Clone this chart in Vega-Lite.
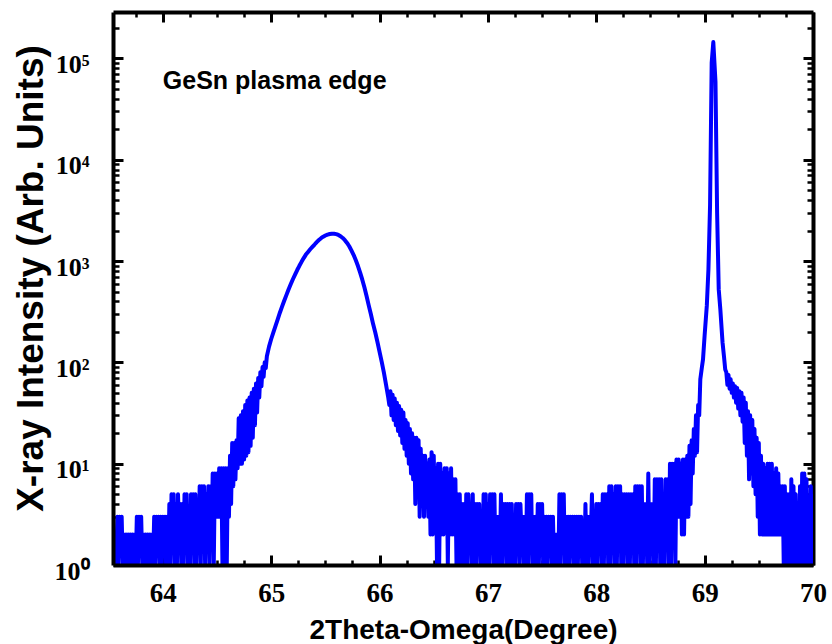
{
"$schema": "https://vega.github.io/schema/vega-lite/v6.json",
"width": 700, "height": 553,
"autosize": {"type": "none"},
"padding": {"left": 113, "top": 12, "right": 19, "bottom": 79},
"background": "white",
"config": {"view": {"stroke": null}},
"data": {"values": [
{"t":63.54,"c":2},{"t":63.55,"c":1},{"t":63.56,"c":2},{"t":63.57,"c":1},{"t":63.58,"c":3},{"t":63.59,"c":1},{"t":63.60,"c":3},{"t":63.61,"c":2},{"t":63.62,"c":3},{"t":63.63,"c":1},
{"t":63.64,"c":2},{"t":63.65,"c":1},{"t":63.66,"c":2},{"t":63.67,"c":1},{"t":63.68,"c":2},{"t":63.69,"c":1},{"t":63.70,"c":2},{"t":63.71,"c":1},{"t":63.72,"c":2},{"t":63.73,"c":1},
{"t":63.74,"c":2},{"t":63.75,"c":1},{"t":63.76,"c":3},{"t":63.77,"c":1},{"t":63.78,"c":3},{"t":63.79,"c":2},{"t":63.80,"c":3},{"t":63.81,"c":1},{"t":63.82,"c":2},{"t":63.83,"c":1},
{"t":63.84,"c":2},{"t":63.85,"c":1},{"t":63.86,"c":2},{"t":63.87,"c":1},{"t":63.88,"c":2},{"t":63.89,"c":1},{"t":63.90,"c":2},{"t":63.91,"c":1},{"t":63.92,"c":3},{"t":63.93,"c":1},
{"t":63.94,"c":3},{"t":63.95,"c":2},{"t":63.96,"c":3},{"t":63.97,"c":1},{"t":63.98,"c":3},{"t":63.99,"c":1},{"t":64.00,"c":3},{"t":64.01,"c":2},{"t":64.02,"c":3},{"t":64.03,"c":1},
{"t":64.04,"c":3},{"t":64.05,"c":1},{"t":64.06,"c":4},{"t":64.07,"c":1},{"t":64.08,"c":5},{"t":64.09,"c":2},{"t":64.10,"c":5},{"t":64.11,"c":1},{"t":64.12,"c":4},{"t":64.13,"c":1},
{"t":64.14,"c":5},{"t":64.15,"c":2},{"t":64.16,"c":4},{"t":64.17,"c":1},{"t":64.18,"c":4},{"t":64.19,"c":1},{"t":64.20,"c":5},{"t":64.21,"c":2},{"t":64.22,"c":5},{"t":64.23,"c":1},
{"t":64.24,"c":3},{"t":64.25,"c":1},{"t":64.26,"c":5},{"t":64.27,"c":2},{"t":64.28,"c":5},{"t":64.29,"c":1},{"t":64.30,"c":5},{"t":64.31,"c":1},{"t":64.32,"c":4},{"t":64.33,"c":2},
{"t":64.34,"c":6},{"t":64.35,"c":1},{"t":64.36,"c":6},{"t":64.37,"c":2},{"t":64.38,"c":6},{"t":64.39,"c":1},{"t":64.40,"c":5},{"t":64.41,"c":2},{"t":64.42,"c":6},{"t":64.43,"c":1},
{"t":64.44,"c":6},{"t":64.45,"c":2},{"t":64.46,"c":8},{"t":64.47,"c":1},{"t":64.48,"c":8},{"t":64.49,"c":3},{"t":64.50,"c":8},{"t":64.51,"c":3},{"t":64.52,"c":9},{"t":64.53,"c":3},
{"t":64.54,"c":9},{"t":64.55,"c":1},{"t":64.56,"c":9},{"t":64.57,"c":1},{"t":64.58,"c":9},{"t":64.59,"c":1},{"t":64.60,"c":9},{"t":64.61,"c":3},{"t":64.62,"c":12},{"t":64.63,"c":4},
{"t":64.64,"c":16},{"t":64.65,"c":6},{"t":64.66,"c":16},{"t":64.67,"c":7},{"t":64.68,"c":17},{"t":64.69,"c":9},{"t":64.70,"c":28},{"t":64.71,"c":10},{"t":64.72,"c":30},{"t":64.73,"c":10},
{"t":64.74,"c":33},{"t":64.75,"c":11},{"t":64.76,"c":38},{"t":64.77,"c":12},{"t":64.78,"c":42},{"t":64.79,"c":13},{"t":64.80,"c":45},{"t":64.81,"c":15},{"t":64.82,"c":50},{"t":64.83,"c":18},
{"t":64.84,"c":55},{"t":64.85,"c":24},{"t":64.86,"c":62},{"t":64.87,"c":32},{"t":64.88,"c":70},{"t":64.89,"c":45},{"t":64.90,"c":80},{"t":64.91,"c":58},{"t":64.92,"c":90},{"t":64.93,"c":72},
{"t":64.94,"c":100},{"t":64.95,"c":88},{"t":64.96,"c":115},
{"t":64.98,"c":143},{"t":65.00,"c":170},{"t":65.02,"c":198},{"t":65.04,"c":229},{"t":65.06,"c":266},{"t":65.08,"c":309},{"t":65.10,"c":355},{"t":65.12,"c":405},{"t":65.14,"c":461},{"t":65.16,"c":524},
{"t":65.18,"c":589},{"t":65.20,"c":661},{"t":65.22,"c":734},{"t":65.24,"c":815},{"t":65.26,"c":897},{"t":65.28,"c":982},{"t":65.30,"c":1069},{"t":65.32,"c":1158},{"t":65.34,"c":1230},{"t":65.36,"c":1306},
{"t":65.38,"c":1380},{"t":65.40,"c":1455},{"t":65.42,"c":1538},{"t":65.44,"c":1613},{"t":65.46,"c":1679},{"t":65.48,"c":1738},{"t":65.50,"c":1786},{"t":65.52,"c":1824},{"t":65.54,"c":1849},{"t":65.56,"c":1862},
{"t":65.58,"c":1860},{"t":65.60,"c":1843},{"t":65.62,"c":1809},{"t":65.64,"c":1758},{"t":65.66,"c":1690},{"t":65.68,"c":1607},{"t":65.70,"c":1510},{"t":65.72,"c":1400},{"t":65.74,"c":1274},{"t":65.76,"c":1151},
{"t":65.78,"c":1023},{"t":65.80,"c":897},{"t":65.82,"c":774},{"t":65.84,"c":658},{"t":65.86,"c":550},{"t":65.88,"c":452},{"t":65.90,"c":365},{"t":65.92,"c":298},{"t":65.94,"c":240},{"t":65.96,"c":198},
{"t":65.98,"c":160},{"t":66.00,"c":127},{"t":66.02,"c":101},{"t":66.04,"c":79},{"t":66.06,"c":60},{"t":66.08,"c":45},
{"t":66.09,"c":38},{"t":66.10,"c":52},{"t":66.11,"c":30},{"t":66.12,"c":48},{"t":66.13,"c":27},{"t":66.14,"c":44},{"t":66.15,"c":24},{"t":66.16,"c":40},{"t":66.17,"c":21},{"t":66.18,"c":37},
{"t":66.19,"c":19},{"t":66.20,"c":34},{"t":66.21,"c":16},{"t":66.22,"c":32},{"t":66.23,"c":14},{"t":66.24,"c":27},{"t":66.25,"c":12},{"t":66.26,"c":25},{"t":66.27,"c":10},{"t":66.28,"c":22},
{"t":66.29,"c":8},{"t":66.30,"c":20},{"t":66.31,"c":7},{"t":66.32,"c":18},{"t":66.33,"c":4},{"t":66.34,"c":18},{"t":66.35,"c":5},{"t":66.36,"c":17},{"t":66.37,"c":3},{"t":66.38,"c":14},
{"t":66.39,"c":4},{"t":66.40,"c":12},{"t":66.41,"c":3},{"t":66.42,"c":12},{"t":66.43,"c":4},{"t":66.44,"c":10},{"t":66.45,"c":3},{"t":66.46,"c":11},{"t":66.47,"c":2},{"t":66.48,"c":13},
{"t":66.49,"c":2},{"t":66.50,"c":12},{"t":66.51,"c":3},{"t":66.52,"c":9},{"t":66.53,"c":1},{"t":66.54,"c":10},{"t":66.55,"c":1},{"t":66.56,"c":10},{"t":66.57,"c":2},{"t":66.58,"c":8},
{"t":66.59,"c":2},{"t":66.60,"c":9},{"t":66.61,"c":3},{"t":66.62,"c":9},{"t":66.63,"c":1},{"t":66.64,"c":8},{"t":66.65,"c":2},{"t":66.66,"c":9},{"t":66.67,"c":2},{"t":66.68,"c":7},
{"t":66.69,"c":2},{"t":66.70,"c":7},{"t":66.71,"c":1},{"t":66.72,"c":5},{"t":66.73,"c":1},{"t":66.74,"c":5},{"t":66.75,"c":1},{"t":66.76,"c":4},{"t":66.77,"c":1},
{"t":66.78,"c":4},{"t":66.79,"c":1},{"t":66.80,"c":5},{"t":66.81,"c":1},{"t":66.82,"c":5},{"t":66.83,"c":2},{"t":66.84,"c":4},{"t":66.85,"c":1},{"t":66.86,"c":5},{"t":66.87,"c":1},
{"t":66.88,"c":4},{"t":66.89,"c":1},{"t":66.90,"c":4},{"t":66.91,"c":2},{"t":66.92,"c":4},{"t":66.93,"c":1},{"t":66.94,"c":3},{"t":66.95,"c":1},{"t":66.96,"c":5},{"t":66.97,"c":1},
{"t":66.98,"c":5},{"t":66.99,"c":1},{"t":67.00,"c":4},{"t":67.01,"c":1},{"t":67.02,"c":5},{"t":67.03,"c":2},{"t":67.04,"c":5},{"t":67.05,"c":1},{"t":67.06,"c":5},{"t":67.07,"c":1},
{"t":67.08,"c":3},{"t":67.09,"c":1},{"t":67.10,"c":3},{"t":67.11,"c":1},{"t":67.12,"c":5},{"t":67.13,"c":1},{"t":67.14,"c":4},{"t":67.15,"c":2},{"t":67.16,"c":4},{"t":67.17,"c":1},
{"t":67.18,"c":4},{"t":67.19,"c":1},{"t":67.20,"c":4},{"t":67.21,"c":1},{"t":67.22,"c":4},{"t":67.23,"c":1},{"t":67.24,"c":3},{"t":67.25,"c":1},{"t":67.26,"c":4},{"t":67.27,"c":2},
{"t":67.28,"c":4},{"t":67.29,"c":1},{"t":67.30,"c":4},{"t":67.31,"c":2},{"t":67.32,"c":3},{"t":67.33,"c":1},{"t":67.34,"c":3},{"t":67.35,"c":1},{"t":67.36,"c":5},{"t":67.37,"c":1},
{"t":67.38,"c":5},{"t":67.39,"c":2},{"t":67.40,"c":5},{"t":67.41,"c":1},{"t":67.42,"c":3},{"t":67.43,"c":1},{"t":67.44,"c":3},{"t":67.45,"c":1},{"t":67.46,"c":4},{"t":67.47,"c":1},
{"t":67.48,"c":4},{"t":67.49,"c":2},{"t":67.50,"c":4},{"t":67.51,"c":1},{"t":67.52,"c":3},{"t":67.53,"c":1},{"t":67.54,"c":3},{"t":67.55,"c":1},{"t":67.56,"c":3},{"t":67.57,"c":2},
{"t":67.58,"c":3},{"t":67.59,"c":1},{"t":67.60,"c":3},{"t":67.61,"c":1},{"t":67.62,"c":2},{"t":67.63,"c":1},{"t":67.64,"c":2},{"t":67.65,"c":1},{"t":67.66,"c":5},{"t":67.67,"c":1},
{"t":67.68,"c":5},{"t":67.69,"c":2},{"t":67.70,"c":5},{"t":67.71,"c":1},{"t":67.72,"c":3},{"t":67.73,"c":1},{"t":67.74,"c":3},{"t":67.75,"c":1},{"t":67.76,"c":3},{"t":67.77,"c":2},
{"t":67.78,"c":3},{"t":67.79,"c":1},{"t":67.80,"c":3},{"t":67.81,"c":1},{"t":67.82,"c":3},{"t":67.83,"c":1},{"t":67.84,"c":3},{"t":67.85,"c":2},{"t":67.86,"c":3},{"t":67.87,"c":1},
{"t":67.88,"c":2},{"t":67.89,"c":1},{"t":67.90,"c":4},{"t":67.91,"c":1},{"t":67.92,"c":3},{"t":67.93,"c":1},{"t":67.94,"c":3},{"t":67.95,"c":2},{"t":67.96,"c":5},{"t":67.97,"c":1},
{"t":67.98,"c":3},{"t":67.99,"c":1},{"t":68.00,"c":4},{"t":68.01,"c":1},{"t":68.02,"c":4},{"t":68.03,"c":2},{"t":68.04,"c":4},{"t":68.05,"c":1},{"t":68.06,"c":5},{"t":68.07,"c":1},
{"t":68.08,"c":5},{"t":68.09,"c":2},{"t":68.10,"c":5},{"t":68.11,"c":1},{"t":68.12,"c":6},{"t":68.13,"c":1},{"t":68.14,"c":6},{"t":68.15,"c":2},{"t":68.16,"c":5},{"t":68.17,"c":1},
{"t":68.18,"c":6},{"t":68.19,"c":1},{"t":68.20,"c":6},{"t":68.21,"c":2},{"t":68.22,"c":6},{"t":68.23,"c":1},{"t":68.24,"c":5},{"t":68.25,"c":1},{"t":68.26,"c":5},{"t":68.27,"c":2},
{"t":68.28,"c":5},{"t":68.29,"c":1},{"t":68.30,"c":5},{"t":68.31,"c":1},{"t":68.32,"c":5},{"t":68.33,"c":2},{"t":68.34,"c":5},{"t":68.35,"c":1},{"t":68.36,"c":6},{"t":68.37,"c":1},
{"t":68.38,"c":6},{"t":68.39,"c":2},{"t":68.40,"c":6},{"t":68.41,"c":1},{"t":68.42,"c":6},{"t":68.43,"c":1},{"t":68.44,"c":4},{"t":68.45,"c":2},{"t":68.46,"c":4},{"t":68.47,"c":1},
{"t":68.48,"c":8},{"t":68.49,"c":1},{"t":68.50,"c":4},{"t":68.51,"c":2},{"t":68.52,"c":4},{"t":68.53,"c":1},{"t":68.54,"c":7},{"t":68.55,"c":1},{"t":68.56,"c":7},{"t":68.57,"c":2},
{"t":68.58,"c":7},{"t":68.59,"c":1},{"t":68.60,"c":7},{"t":68.61,"c":1},{"t":68.62,"c":4},{"t":68.63,"c":1},{"t":68.64,"c":7},{"t":68.65,"c":2},{"t":68.66,"c":7},{"t":68.67,"c":1},
{"t":68.68,"c":10},{"t":68.69,"c":1},{"t":68.70,"c":10},{"t":68.71,"c":2},{"t":68.72,"c":10},{"t":68.73,"c":1},{"t":68.74,"c":11},{"t":68.75,"c":3},{"t":68.76,"c":11},{"t":68.77,"c":3},
{"t":68.78,"c":10},{"t":68.79,"c":2},{"t":68.80,"c":11},{"t":68.81,"c":2},{"t":68.82,"c":11},{"t":68.83,"c":3},{"t":68.84,"c":12},{"t":68.85,"c":3},{"t":68.86,"c":15},{"t":68.87,"c":4},
{"t":68.88,"c":17},{"t":68.89,"c":8},{"t":68.90,"c":22},{"t":68.91,"c":12},{"t":68.92,"c":30},{"t":68.93,"c":13},{"t":68.94,"c":38},{"t":68.95,"c":30},{"t":68.96,"c":68},
{"t":68.975,"c":90},{"t":68.985,"c":107},{"t":69.00,"c":186},{"t":69.02,"c":363},{"t":69.035,"c":830},{"t":69.05,"c":3550},{"t":69.065,"c":91000},{"t":69.08,"c":145000},{"t":69.10,"c":59000},{"t":69.115,"c":3020},
{"t":69.13,"c":525},{"t":69.145,"c":331},{"t":69.165,"c":158},{"t":69.18,"c":110},{"t":69.19,"c":85},
{"t":69.20,"c":80},{"t":69.21,"c":60},{"t":69.22,"c":75},{"t":69.23,"c":55},{"t":69.24,"c":68},{"t":69.25,"c":50},{"t":69.26,"c":62},{"t":69.27,"c":45},{"t":69.28,"c":58},{"t":69.29,"c":40},
{"t":69.30,"c":56},{"t":69.31,"c":35},{"t":69.32,"c":52},{"t":69.33,"c":30},{"t":69.34,"c":50},{"t":69.35,"c":26},{"t":69.36,"c":45},{"t":69.37,"c":16},{"t":69.38,"c":40},{"t":69.39,"c":12},
{"t":69.40,"c":33},{"t":69.41,"c":7},{"t":69.42,"c":30},{"t":69.43,"c":8},{"t":69.44,"c":27},{"t":69.45,"c":6},{"t":69.46,"c":22},{"t":69.47,"c":5},{"t":69.48,"c":18},{"t":69.49,"c":3},
{"t":69.50,"c":16},{"t":69.51,"c":2},{"t":69.52,"c":12},{"t":69.53,"c":2},{"t":69.54,"c":10},{"t":69.55,"c":2},{"t":69.56,"c":9},{"t":69.57,"c":2},{"t":69.58,"c":10},{"t":69.59,"c":2},
{"t":69.60,"c":10},{"t":69.61,"c":2},{"t":69.62,"c":10},{"t":69.63,"c":2},{"t":69.64,"c":8},{"t":69.65,"c":2},{"t":69.66,"c":9},{"t":69.67,"c":2},{"t":69.68,"c":8},{"t":69.69,"c":2},
{"t":69.70,"c":6},{"t":69.71,"c":2},{"t":69.72,"c":6},{"t":69.73,"c":1},{"t":69.74,"c":6},{"t":69.75,"c":1},{"t":69.76,"c":5},{"t":69.77,"c":1},{"t":69.78,"c":5},{"t":69.79,"c":1},
{"t":69.80,"c":7},{"t":69.81,"c":1},{"t":69.82,"c":6},{"t":69.83,"c":1},{"t":69.84,"c":5},{"t":69.85,"c":1},{"t":69.86,"c":4},{"t":69.87,"c":1},{"t":69.88,"c":6},{"t":69.89,"c":1},
{"t":69.90,"c":8},{"t":69.91,"c":1},{"t":69.92,"c":8},{"t":69.93,"c":1},{"t":69.94,"c":7},{"t":69.95,"c":1},{"t":69.96,"c":4},{"t":69.97,"c":1},{"t":69.98,"c":6},{"t":69.99,"c":1},
{"t":70.00,"c":5}
]},
"resolve": {"axis": {"x": "independent", "y": "independent"}},
"layer": [
{
"mark": {"type": "line", "color": "#0000ff", "strokeWidth": 4, "clip": true, "strokeJoin": "round"},
"encoding": {
"x": {"field": "t", "type": "quantitative", "scale": {"domain": [63.54, 70], "nice": false, "zero": false},
"axis": {"orient": "bottom", "values": [64, 65, 66, 67, 68, 69, 70], "ticks": false,
"grid": false, "domain": true, "domainColor": "black", "domainWidth": 4,
"labelFont": "Liberation Serif", "labelFontWeight": "bold", "labelFontSize": 27, "labelColor": "black", "labelPadding": 15, "labelFlush": false, "labelOverlap": false, "labelBound": false,
"title": "2Theta-Omega(Degree)", "titleFont": "Liberation Sans", "titleFontWeight": "bold", "titleFontSize": 28, "titleColor": "black", "titleX": 350, "titleY": 73, "titleAlign": "center", "titleBaseline": "alphabetic", "zindex": 1}},
"y": {"field": "c", "type": "quantitative", "scale": {"type": "log", "domain": [1, 287000], "nice": false},
"axis": {"orient": "left", "values": [1, 10, 100, 1000, 10000, 100000], "ticks": false,
"grid": false, "domain": true, "domainColor": "black", "domainWidth": 4,
"labelExpr": "'10' + ['⁰','¹','²','³','⁴','⁵'][round(log(datum.value)/LN10)]",
"labelFont": "Liberation Serif", "labelFontWeight": "bold", "labelFontSize": 26, "labelColor": "black", "labelPadding": 24, "labelOffset": 6, "labelFlush": false, "labelOverlap": false, "labelBound": false,
"title": "X-ray Intensity (Arb. Units)", "titleFont": "Liberation Sans", "titleFontWeight": "bold", "titleFontSize": 37, "titleColor": "black", "titleX": -71, "titleY": 266, "titleAngle": 270, "titleAlign": "center", "titleBaseline": "alphabetic", "zindex": 1}}
}
},
{
"data": {"values": [{"t": 65, "c": 10}]},
"mark": {"type": "line", "opacity": 0},
"encoding": {
"x": {"field": "t", "type": "quantitative", "scale": {"domain": [63.54, 70], "nice": false, "zero": false},
"axis": {"orient": "top", "values": [63.75, 64.25, 64.5, 64.75, 65.25, 65.5, 65.75, 66.25, 66.5, 66.75, 67.25, 67.5, 67.75, 68.25, 68.5, 68.75, 69.25, 69.5, 69.75],
"ticks": false, "labels": false, "domain": false, "title": null,
"grid": true, "gridColor": "black", "gridOpacity": 1, "gridWidth": 2.5, "gridDash": [5, 543, 5, 100]}},
"y": {"field": "c", "type": "quantitative", "scale": {"type": "log", "domain": [1, 287000], "nice": false},
"axis": {"orient": "right", "values": [2, 3, 4, 5, 6, 7, 8, 9, 20, 30, 40, 50, 60, 70, 80, 90, 200, 300, 400, 500, 600, 700, 800, 900, 2000, 3000, 4000, 5000, 6000, 7000, 8000, 9000, 20000, 30000, 40000, 50000, 60000, 70000, 80000, 90000, 200000],
"ticks": false, "labels": false, "domain": false, "title": null,
"grid": true, "gridColor": "black", "gridOpacity": 1, "gridWidth": 2.5, "gridDash": [6, 688, 6, 100]}}
}
},
{
"data": {"values": [{}]},
"mark": {"type": "text", "align": "left", "baseline": "middle", "font": "Liberation Sans", "fontWeight": "bold", "fontSize": 25, "color": "black"},
"encoding": {
"x": {"datum": 64, "type": "quantitative", "scale": {"domain": [63.54, 70], "nice": false, "zero": false},
"axis": {"orient": "top", "values": [64, 65, 66, 67, 68, 69, 70],
"ticks": false, "labels": false, "domain": true, "domainColor": "black", "domainWidth": 4, "title": null,
"grid": true, "gridColor": "black", "gridOpacity": 1, "gridWidth": 3, "gridDash": [10, 533, 10, 100]}},
"y": {"datum": 60000, "type": "quantitative", "scale": {"type": "log", "domain": [1, 287000], "nice": false},
"axis": {"orient": "right", "values": [1, 10, 100, 1000, 10000, 100000],
"ticks": false, "labels": false, "domain": true, "domainColor": "black", "domainWidth": 4, "title": null,
"grid": true, "gridColor": "black", "gridOpacity": 1, "gridWidth": 3, "gridDash": [10, 680, 10, 100]}},
"text": {"value": "GeSn plasma edge"}
}
}
]
}
